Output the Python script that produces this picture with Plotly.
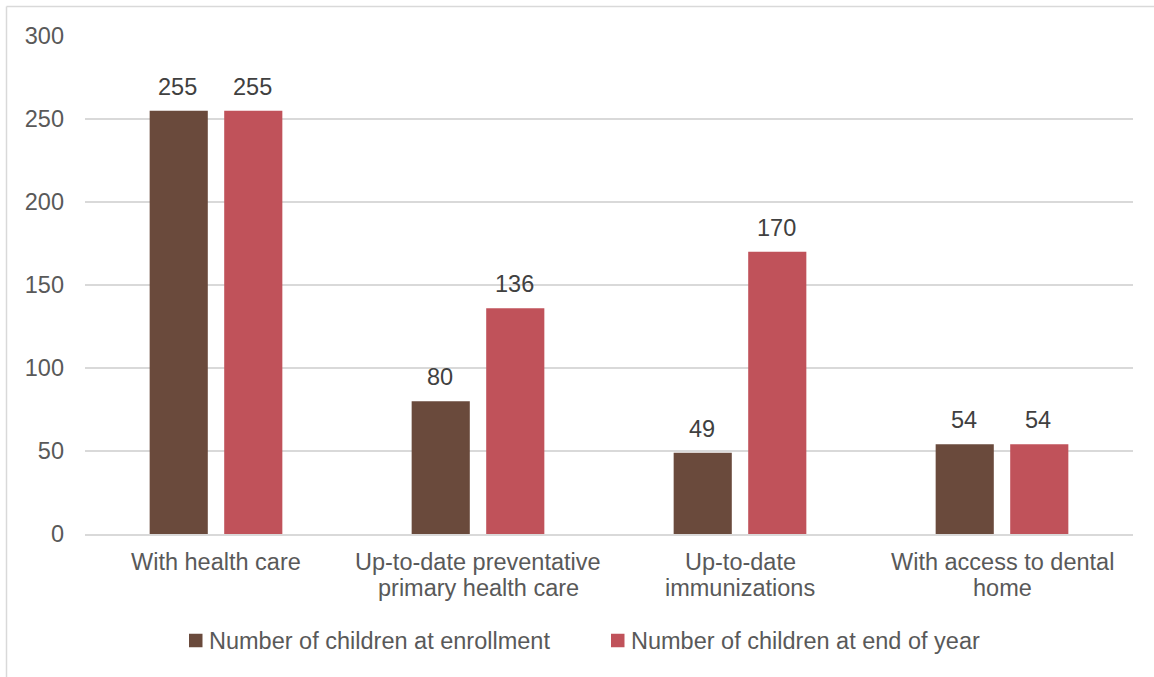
import plotly.graph_objects as go

categories = [
    "With health care",
    "Up-to-date preventative<br>primary health care",
    "Up-to-date<br>immunizations",
    "With access to dental<br>home",
]
series_names = ["Number of children at enrollment", "Number of children at end of year"]
enrollment = [255, 80, 49, 54]
end_of_year = [255, 136, 170, 54]
y_ticks = [0, 50, 100, 150, 200, 250, 300]

W, H = 1154, 677
M_L, M_R, M_T, M_B = 85, 21, 36, 143
FONT = "Liberation Sans, Arial, sans-serif"
FS = 23.5
BROWN = "#6A4A3C"
RED = "#C0525A"
GRID = "#D9D9D9"
colors = [BROWN, RED]

x_idx = list(range(len(categories)))
series_vals = [enrollment, end_of_year]

fig = go.Figure()
for name, vals, col in zip(series_names, series_vals, colors):
    fig.add_trace(go.Bar(x=x_idx, y=vals, name=name, showlegend=False,
                         marker=dict(color=col, line=dict(width=0))))

plot_w = W - M_L - M_R
plot_h = H - M_T - M_B
px_x = lambda p: (p - M_L) / plot_w
px_y = lambda p: 1 - (p - M_T) / plot_h

# value labels above each bar
slot_px = plot_w / len(categories) * (1 - 0.431) / 2
annotations = []
for offs, vals in [(-slot_px / 2, enrollment), (slot_px / 2, end_of_year)]:
    for xi, v in zip(x_idx, vals):
        annotations.append(dict(
            x=xi, y=v, xref="x", yref="y", text=str(v), showarrow=False,
            xshift=offs - 1, yanchor="bottom", yshift=9,
            font=dict(family=FONT, size=FS, color="#404040"),
        ))

# category labels, one annotation per line
for xi, label in zip(x_idx, categories):
    for li, line in enumerate(label.split("<br>")):
        annotations.append(dict(
            x=xi, y=0, xref="x", yref="paper", text=line, showarrow=False,
            yanchor="middle", yshift=-28 - li * 26,
            font=dict(family=FONT, size=FS, color="#595959"),
        ))

# chart-area frame
shapes = [
    dict(type="line", xref="paper", yref="paper", x0=px_x(6.5), x1=px_x(W + 5), y0=px_y(6.5), y1=px_y(6.5),
         line=dict(color=GRID, width=1.5)),
    dict(type="line", xref="paper", yref="paper", x0=px_x(6.5), x1=px_x(6.5), y0=px_y(6.5), y1=px_y(H + 5),
         line=dict(color=GRID, width=1.5)),
]

# legend: square swatch followed by the series name
legend_left = [189, 611]
legend_y = 640.5
for name, col, lx in zip(series_names, colors, legend_left):
    shapes.append(dict(type="rect", xref="paper", yref="paper",
                       x0=px_x(lx), x1=px_x(lx + 13.5), y0=px_y(legend_y - 6.75), y1=px_y(legend_y + 6.75),
                       fillcolor=col, line=dict(width=0)))
    annotations.append(dict(x=px_x(lx + 17.5), y=px_y(legend_y), xref="paper", yref="paper",
                            text=name, showarrow=False, xanchor="left", yanchor="middle",
                            font=dict(family=FONT, size=FS, color="#595959")))

fig.update_layout(
    width=W, height=H,
    margin=dict(l=M_L, r=M_R, t=M_T, b=M_B, pad=0),
    paper_bgcolor="white", plot_bgcolor="white",
    barmode="group", bargap=0.431, bargroupgap=0.22,
    font=dict(family=FONT, size=FS, color="#595959"),
    showlegend=False,
    xaxis=dict(range=[-0.5, len(categories) - 0.5], showticklabels=False, showgrid=False,
               zeroline=False, showline=True, linecolor=GRID, linewidth=1.5, fixedrange=True),
    yaxis=dict(range=[0, 300], tickvals=y_ticks, showgrid=True, gridcolor=GRID, gridwidth=1.5,
               zeroline=False, showline=False, ticks="", ticklabelstandoff=20,
               tickfont=dict(family=FONT, size=FS, color="#595959")),
    annotations=annotations,
    shapes=shapes,
)

fig.write_html("out.html")
